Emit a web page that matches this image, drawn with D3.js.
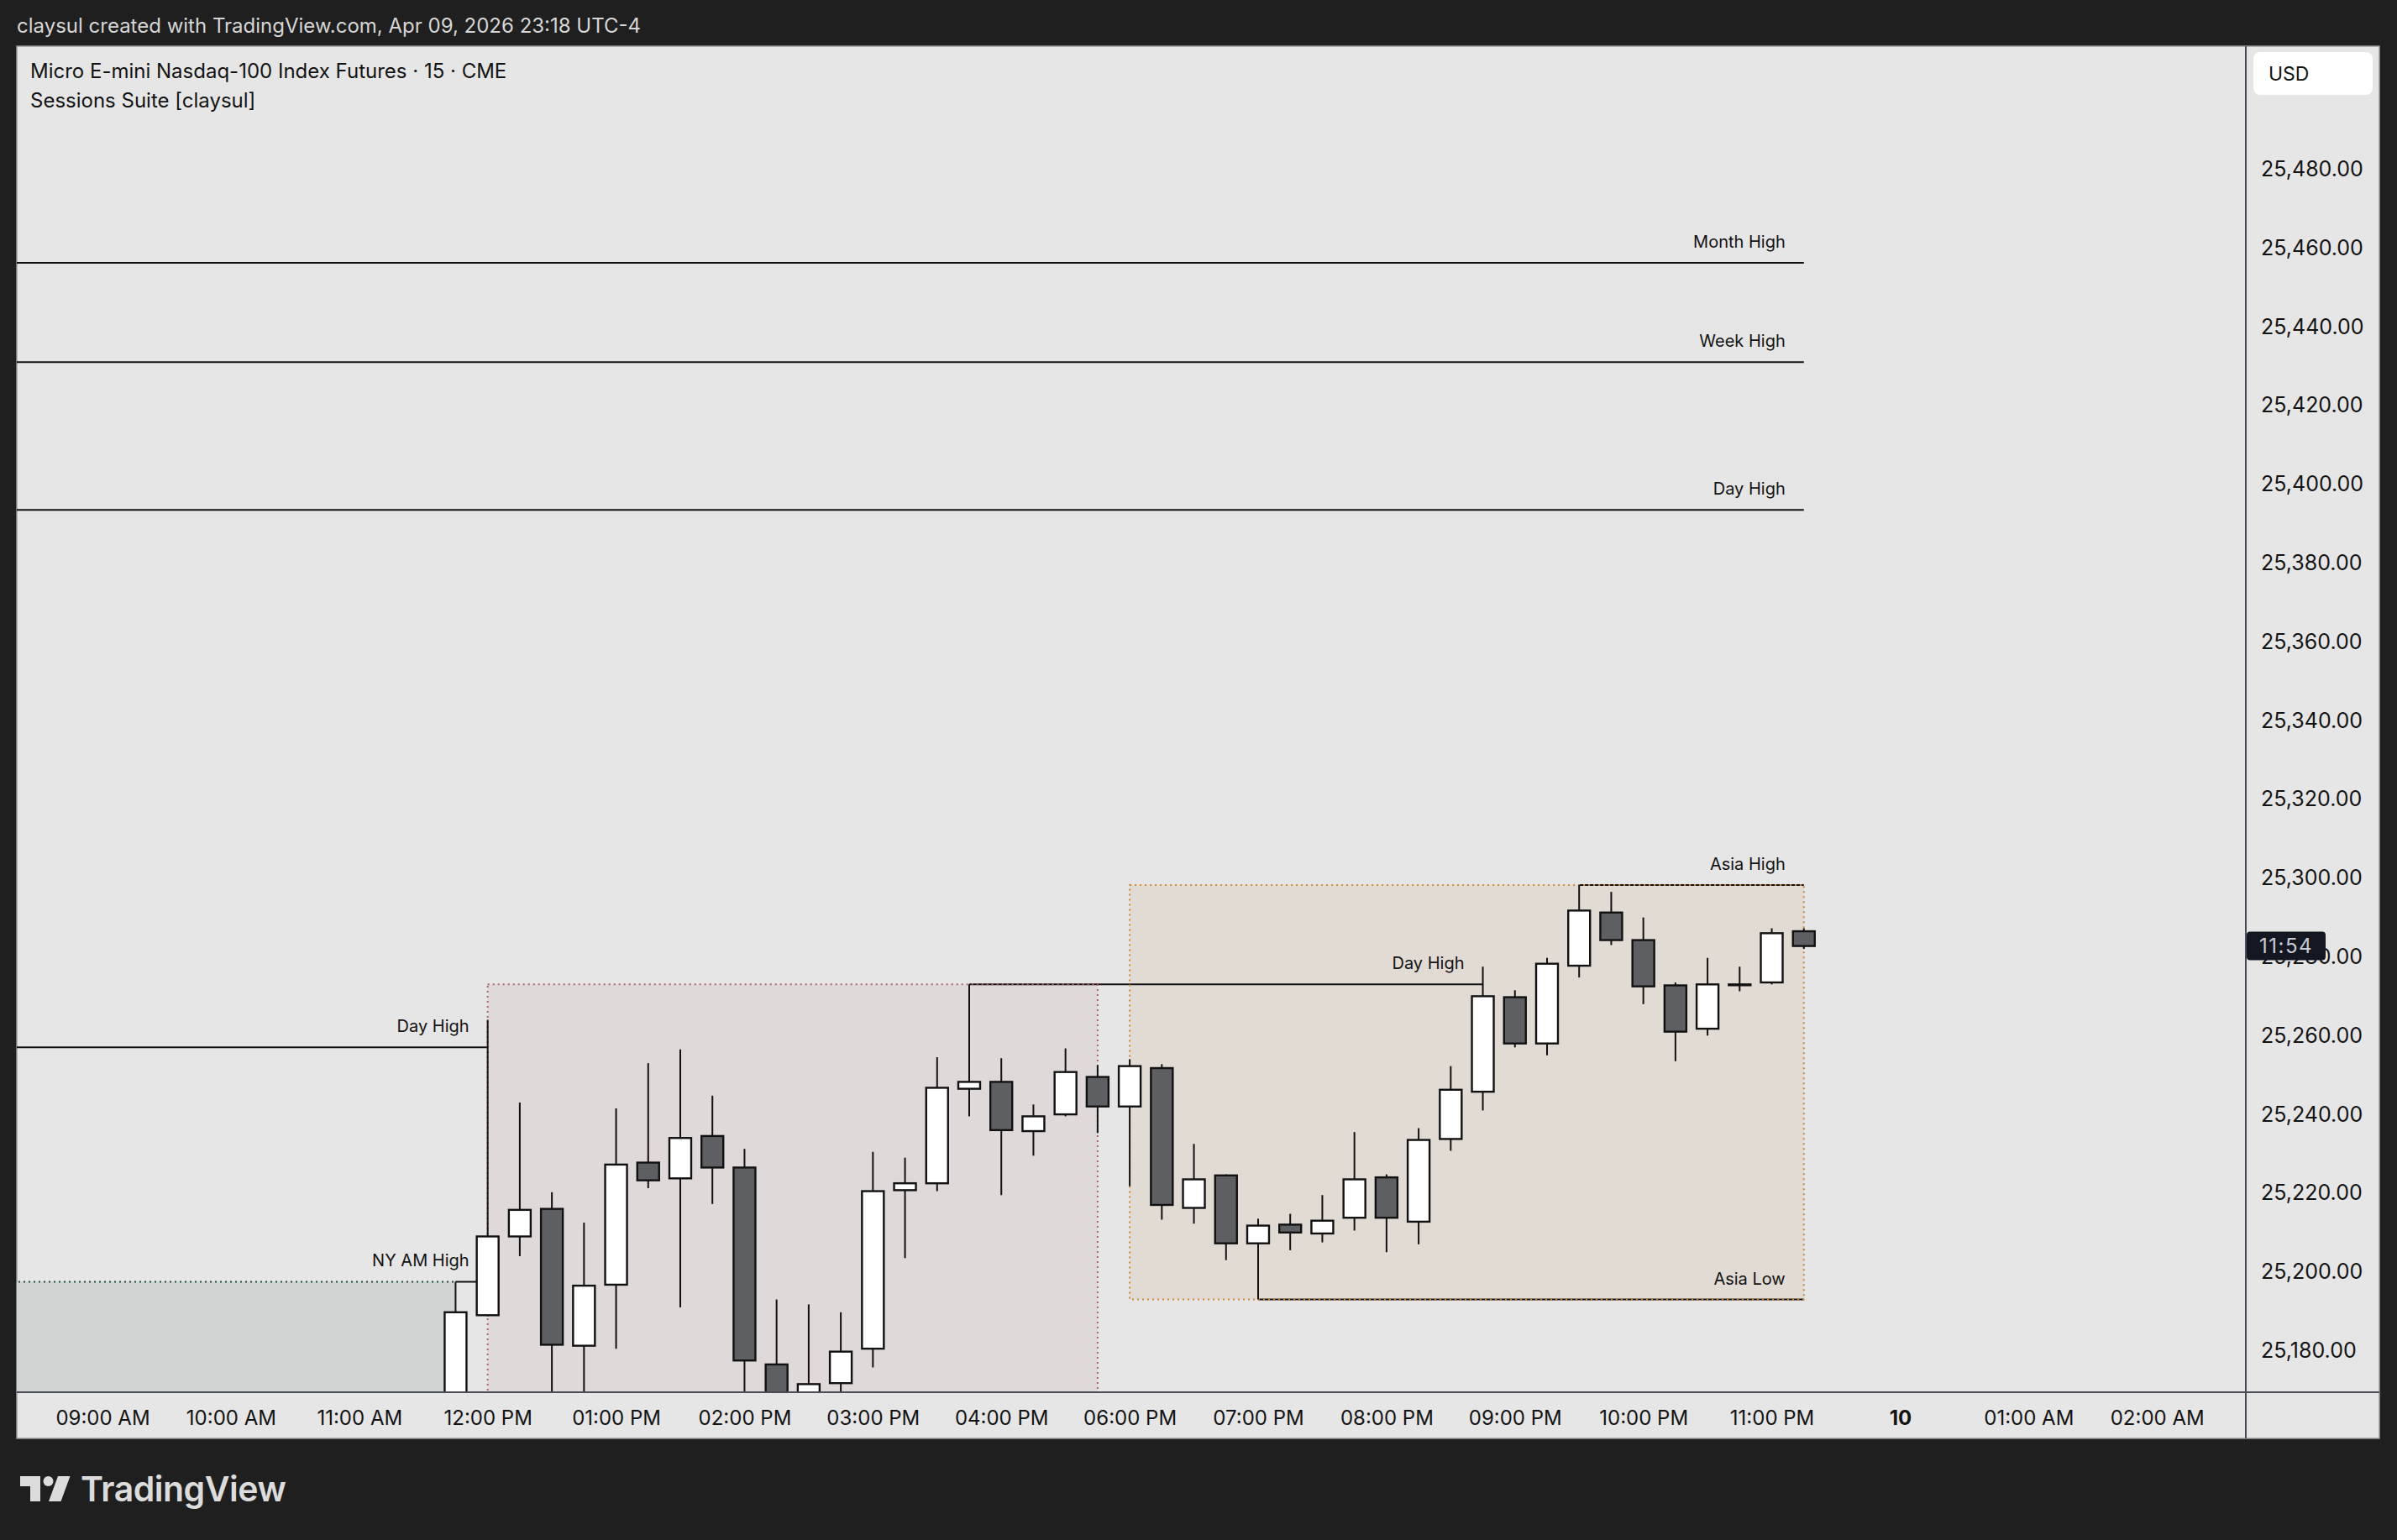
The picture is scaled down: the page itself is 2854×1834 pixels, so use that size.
<!DOCTYPE html>
<html>
<head>
<meta charset="utf-8">
<script src="https://cdn.jsdelivr.net/npm/d3@7"></script>
<style>
  html, body { margin: 0; padding: 0; background: #1f1f1f; }
  svg { display: block; }
  text { font-family: Inter, "Noto Sans", sans-serif; }
</style>
</head>
<body>
<svg id="chart"></svg>
<script>
var svg_width = 2854
var svg_height = 1834

// plot area (inside the chart panel)
var plotLeft = 20, plotRight = 2674, plotTop = 55, plotBottom = 1658
var panelRight = 2833, panelBottom = 1713

// DATA: 15 minute bars (time of bar open, local)
var barTimes = ["11:45", "12:00", "12:15", "12:30", "12:45", "13:00", "13:15", "13:30", "13:45",
                "14:00", "14:15", "14:30", "14:45", "15:00", "15:15", "15:30", "15:45",
                "16:00", "16:15", "16:30", "16:45", "18:00", "18:15", "18:30", "18:45",
                "19:00", "19:15", "19:30", "19:45", "20:00", "20:15", "20:30", "20:45",
                "21:00", "21:15", "21:30", "21:45", "22:00", "22:15", "22:30", "22:45",
                "23:00", "23:15"]
var opens  = [25155, 25189, 25209, 25216, 25181.25, 25196.75, 25227.75, 25223.75, 25234.5,
              25226.5, 25176.5, 25164, 25171.75, 25180.5, 25220.75, 25222.5, 25246.5,
              25248.25, 25235.75, 25240, 25249.5, 25242, 25251.75, 25216.25, 25224.5,
              25207.25, 25212, 25209.75, 25213.75, 25224, 25212.75, 25233.75, 25245.75,
              25269.75, 25258, 25277.75, 25291.25, 25284.25, 25272.75, 25261.75, 25273,
              25273.5, 25286.5]
var highs  = [25197.5, 25264, 25243, 25220.25, 25212.5, 25241.5, 25253, 25256.5, 25244.75,
              25231.25, 25193, 25191.75, 25189.75, 25230.5, 25229, 25254.5, 25273,
              25254.25, 25242.5, 25256.75, 25252.5, 25254, 25252.75, 25232.5, 25224.75,
              25213.5, 25214.75, 25219.5, 25235.5, 25224.75, 25236.5, 25252.25, 25277.5,
              25271.5, 25279.75, 25298.25, 25296.5, 25290, 25273.5, 25279.75, 25277.5,
              25287.25, 25287.25]
var lows   = [25150, 25188.75, 25204, 25160, 25162, 25180.5, 25221.25, 25191, 25217.25,
              25160, 25158, 25158, 25166, 25175.75, 25203.5, 25220.5, 25239.5,
              25219.5, 25229.5, 25239.5, 25235.25, 25221.75, 25213.25, 25212.25, 25203,
              25193, 25205.5, 25207.5, 25210.5, 25205, 25207, 25230.75, 25241,
              25257, 25255, 25274.75, 25283, 25268, 25253.5, 25260, 25271.25,
              25273, 25282]
var closes = [25189.75, 25209, 25215.75, 25181.5, 25196.5, 25227.25, 25223.25, 25234, 25226.5,
              25177.5, 25165, 25171.5, 25179.75, 25220.5, 25222.5, 25246.75, 25248.25,
              25236, 25239.5, 25250.75, 25242, 25252.25, 25217, 25223.5, 25207.25,
              25211.75, 25210, 25213, 25223.5, 25213.75, 25233.5, 25246.25, 25270,
              25258, 25278.25, 25291.75, 25284.25, 25272.5, 25261, 25273, 25273,
              25286, 25282.75]

// key levels drawn by the indicator (null = starts before the visible range)
var levelNames  = ["Month High", "Week High", "Day High", "Day High", "NY AM High", "Day High", "Asia High", "Asia Low"]
var levelPrices = [25456.25, 25431, 25393.5, 25257, 25197.5, 25273, 25298.25, 25193]
var levelFrom   = [null, null, null, null, "11:45", "15:45", "21:30", "19:00"]
var levelTo     = ["23:15", "23:15", "23:15", "12:00", "12:00", "20:45", "23:15", "23:15"]

// session boxes (null low = below the visible range)
var sessionNames = ["NY AM", "NY PM", "Asia"]
var sessionFrom  = [null, "12:00", "18:00"]
var sessionTo    = ["11:45", "16:45", "23:15"]
var sessionHighs = [25197.5, 25273, 25298.25]
var sessionLows  = [null, null, 25193]

// axes
var priceTicks = [25180, 25200, 25220, 25240, 25260, 25280, 25300, 25320, 25340, 25360,
                  25380, 25400, 25420, 25440, 25460, 25480]
var timeTicks  = ["09:00", "10:00", "11:00", "12:00", "13:00", "14:00", "15:00", "16:00",
                  "18:00", "19:00", "20:00", "21:00", "22:00", "23:00", "00:00", "01:00", "02:00"]
var timeLabels = ["09:00 AM", "10:00 AM", "11:00 AM", "12:00 PM", "01:00 PM", "02:00 PM", "03:00 PM", "04:00 PM",
                  "06:00 PM", "07:00 PM", "08:00 PM", "09:00 PM", "10:00 PM", "11:00 PM", "10", "01:00 AM", "02:00 AM"]
var countdown = "11:54"

var sessionStyle = {
    "NY AM": { fill: "#cfd3d2", stroke: "#1f4a3c", border: false },
    "NY PM": { fill: "#dfd9d9", stroke: "#b0606c", border: true },
    "Asia":  { fill: "#e2dbd4", stroke: "#cc8a34", border: true }
}

// bar slot index counted from 09:00, skipping the 17:00 maintenance hour
function slotOf(t) {
    var p = t.split(":").map(Number)
    var mins = p[0] * 60 + p[1] - 540
    if (p[0] < 9) mins += 1440
    var s = mins / 15
    if (p[0] >= 18 || p[0] < 9) s -= 4
    return s
}

var bars = barTimes.map(function(t, i) {
    return { slot: slotOf(t), o: opens[i], h: highs[i], l: lows[i], c: closes[i] }
})

//SCALES
var xScale = d3.scaleLinear().domain([0, 64]).range([122, 2568.2])
var yScale = d3.scaleLinear().domain([25180, 25480]).range([1608.5, 201.5])

function xOf(t) { return t === null ? plotLeft - 10 : xScale(slotOf(t)) }
function yOf(p) { return p === null ? plotBottom + 20 : yScale(p) }

var svg = d3.select("#chart")
    .attr("width", svg_width)
    .attr("height", svg_height)

svg.append("rect")
    .attr("width", svg_width).attr("height", svg_height)
    .attr("fill", "#1f1f1f")

// chart panel
svg.append("rect")
    .attr("x", plotLeft).attr("y", plotTop)
    .attr("width", panelRight - plotLeft).attr("height", panelBottom - plotTop)
    .attr("fill", "#e6e6e6")
    .attr("stroke", "#9a9a9a").attr("stroke-width", 1.5)

svg.append("clipPath").attr("id", "plotclip")
  .append("rect")
    .attr("x", plotLeft).attr("y", plotTop)
    .attr("width", plotRight - plotLeft).attr("height", plotBottom - plotTop)

var plot = svg.append("g").attr("clip-path", "url(#plotclip)")

// session box fills
sessionNames.forEach(function(name, i) {
    var x0 = xOf(sessionFrom[i]), x1 = xOf(sessionTo[i])
    var y0 = yOf(sessionHighs[i]), y1 = yOf(sessionLows[i])
    plot.append("rect")
        .attr("x", x0).attr("y", y0)
        .attr("width", x1 - x0).attr("height", y1 - y0)
        .attr("fill", sessionStyle[name].fill)
})

// level lines
levelNames.forEach(function(name, i) {
    plot.append("line")
        .attr("x1", xOf(levelFrom[i]))
        .attr("x2", xOf(levelTo[i]))
        .attr("y1", yOf(levelPrices[i])).attr("y2", yOf(levelPrices[i]))
        .attr("stroke", "#111").attr("stroke-width", 2)
})

// session box borders (dotted); NY AM only shows its top edge
sessionNames.forEach(function(name, i) {
    var x0 = xOf(sessionFrom[i]), x1 = xOf(sessionTo[i])
    var y0 = yOf(sessionHighs[i]), y1 = yOf(sessionLows[i])
    var st = sessionStyle[name]
    if (st.border) {
        plot.append("rect")
            .attr("x", x0).attr("y", y0)
            .attr("width", x1 - x0).attr("height", y1 - y0)
            .attr("fill", "none")
            .attr("stroke", st.stroke)
            .attr("stroke-width", 2)
            .attr("stroke-dasharray", "2,4")
    } else {
        plot.append("line")
            .attr("x1", x0).attr("x2", x1)
            .attr("y1", y0).attr("y2", y0)
            .attr("stroke", st.stroke)
            .attr("stroke-width", 2)
            .attr("stroke-dasharray", "2,4")
    }
})

// candles
var bodyW = 26
var candles = plot.selectAll("g.candle")
    .data(bars)
    .enter()
    .append("g")
      .attr("class", "candle")

candles.append("line")
    .attr("x1", function(d) { return xScale(d.slot) })
    .attr("x2", function(d) { return xScale(d.slot) })
    .attr("y1", function(d) { return yScale(d.h) })
    .attr("y2", function(d) { return yScale(d.l) })
    .attr("stroke", "#111").attr("stroke-width", 2)

candles.append("rect")
    .attr("x", function(d) { return xScale(d.slot) - bodyW / 2 })
    .attr("y", function(d) { return yScale(Math.max(d.o, d.c)) })
    .attr("width", bodyW)
    .attr("height", function(d) { return Math.max(1, Math.abs(yScale(d.o) - yScale(d.c))) })
    .attr("fill", function(d) { return d.c >= d.o ? "#ffffff" : "#5e5f63" })
    .attr("stroke", "#111").attr("stroke-width", 2.4)

// level labels, right aligned just before the line end
levelNames.forEach(function(name, i) {
    plot.append("text")
        .attr("x", xOf(levelTo[i]) - 22)
        .attr("y", yOf(levelPrices[i]) - 18)
        .attr("text-anchor", "end")
        .attr("font-size", 20)
        .attr("fill", "#131313")
        .text(name)
})

// AXES
var yAxis = d3.axisRight(yScale)
    .tickValues(priceTicks)
    .tickFormat(d3.format(",.2f"))
    .tickSize(0)
    .tickPadding(18)

var gy = svg.append("g")
    .attr("transform", "translate(" + plotRight + ",0)")
    .call(yAxis)
gy.select(".domain").remove()
gy.selectAll("text")
    .attr("font-family", "Inter, sans-serif")
    .attr("font-size", 25)
    .attr("fill", "#131313")

var xAxis = d3.axisBottom(xScale)
    .tickValues(timeTicks.map(slotOf))
    .tickFormat(function(d, i) { return timeLabels[i] })
    .tickSize(0)
    .tickPadding(22)

var gx = svg.append("g")
    .attr("transform", "translate(0," + plotBottom + ")")
    .call(xAxis)
gx.select(".domain").remove()
gx.selectAll("text")
    .attr("font-family", "Inter, sans-serif")
    .attr("font-size", 24)
    .attr("fill", "#131313")
    .attr("font-weight", function(d, i) { return timeLabels[i] === "10" ? 700 : 400 })

// separators
svg.append("line")
    .attr("x1", plotRight).attr("x2", plotRight)
    .attr("y1", plotTop).attr("y2", panelBottom)
    .attr("stroke", "#4a4c56").attr("stroke-width", 2)
svg.append("line")
    .attr("x1", plotLeft).attr("x2", panelRight)
    .attr("y1", plotBottom).attr("y2", plotBottom)
    .attr("stroke", "#4a4c56").attr("stroke-width", 2)

// countdown label on the last close
var lastY = yScale(closes[closes.length - 1])
svg.append("rect")
    .attr("x", plotRight + 1).attr("y", lastY - 17)
    .attr("width", 94).attr("height", 34)
    .attr("rx", 4)
    .attr("fill", "#131722")
svg.append("text")
    .attr("x", plotRight + 48).attr("y", lastY)
    .attr("dy", "0.35em")
    .attr("text-anchor", "middle")
    .attr("font-size", 24)
    .attr("letter-spacing", 1.5)
    .attr("fill", "#c9cbd1")
    .text(countdown)

// USD badge
svg.append("rect")
    .attr("x", 2683).attr("y", 62)
    .attr("width", 142).attr("height", 51)
    .attr("rx", 8)
    .attr("fill", "#ffffff")
svg.append("text")
    .attr("x", 2701).attr("y", 87.5)
    .attr("dy", "0.35em")
    .attr("font-size", 23)
    .attr("fill", "#131313")
    .text("USD")

// header and legend
svg.append("text")
    .attr("x", 20).attr("y", 31)
    .attr("dy", "0.35em")
    .attr("font-size", 24)
    .attr("fill", "#d6d6d6")
    .text("claysul created with TradingView.com, Apr 09, 2026 23:18 UTC-4")

svg.append("text")
    .attr("x", 36).attr("y", 85)
    .attr("dy", "0.35em")
    .attr("font-size", 24)
    .attr("fill", "#131313")
    .text("Micro E-mini Nasdaq-100 Index Futures \u00b7 15 \u00b7 CME")

svg.append("text")
    .attr("x", 36).attr("y", 120)
    .attr("dy", "0.35em")
    .attr("font-size", 24)
    .attr("fill", "#131313")
    .text("Sessions Suite [claysul]")

// TradingView logo
var logo = svg.append("g").attr("fill", "#dcdcdc")
logo.append("path").attr("d", "M24,1758 H48 V1788 H36 V1770 H24 Z")
logo.append("circle").attr("cx", 57.5).attr("cy", 1764).attr("r", 6)
logo.append("path").attr("d", "M69,1758 H83.5 L72.5,1788 H58 Z")
logo.append("text")
    .attr("x", 96).attr("y", 1788)
    .attr("font-size", 41)
    .attr("font-weight", 600)
    .attr("letter-spacing", -0.5)
    .text("TradingView")
</script>
</body>
</html>
